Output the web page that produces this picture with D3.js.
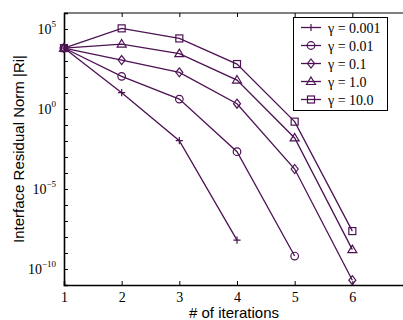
<!DOCTYPE html>
<html>
<head>
<meta charset="utf-8">
<script src="https://cdn.jsdelivr.net/npm/d3@7"></script>
<style>
body { margin: 0; background: #fff; }
</style>
</head>
<body>
<svg id="chart" width="403" height="320"></svg>
<script>
// values (log10 of residual norm)
const iterations = [1, 2, 3, 4, 5, 6];
const gammaLabels = ['γ = 0.001', 'γ = 0.01', 'γ = 0.1', 'γ = 1.0', 'γ = 10.0'];
const markers = ['plus', 'circle', 'diamond', 'triangle', 'square'];
const logG0001 = [3.81, 1.02, -1.98, -8.2];
const logG001 = [3.81, 2.04, 0.62, -2.67, -9.19];
const logG01 = [3.81, 3.06, 2.29, 0.33, -3.75, -10.7];
const logG1 = [3.81, 4.06, 3.46, 1.81, -1.81, -8.79];
const logG10 = [3.81, 5.04, 4.41, 2.81, -0.79, -7.63];
const yTickExps = [5, 0, -5, -10];

const series = [logG0001, logG001, logG01, logG1, logG10];
const color = '#4d1254';

const width = 403, height = 320;
const padL = 64, padT = 13, padR = 410, padB = 285;

const svg = d3.select('#chart');
const xScale = d3.scaleLinear().domain([1, 7]).range([padL, padR]);
const yScale = d3.scaleLog().domain([1e-11, 1e6]).range([padB, padT]);

// top border
svg.append('line').attr('x1', padL).attr('x2', width).attr('y1', padT).attr('y2', padT)
  .attr('stroke', '#000').attr('stroke-width', 1);

// bottom axis, ticks pointing inward
const xAxis = d3.axisBottom(xScale).tickValues(iterations).tickSize(-4).tickPadding(7).tickFormat(d3.format('d'));
const gx = svg.append('g').attr('transform', `translate(0,${padB})`).call(xAxis);
gx.select('.domain').attr('stroke-width', 1.6);
gx.selectAll('text').attr('font-family', '"Liberation Serif", serif').attr('font-size', 14).attr('fill', '#000');

// top ticks
const gxt = svg.append('g').attr('transform', `translate(0,${padT})`)
  .call(d3.axisTop(xScale).tickValues(iterations.slice(1)).tickSize(-4).tickFormat(''));
gxt.select('.domain').remove();

// left axis, one tick per decade, labels every 5
const decades = d3.range(-11, 7).map(e => Math.pow(10, e));
const gy = svg.append('g').attr('transform', `translate(${padL},0)`)
  .call(d3.axisLeft(yScale).tickValues(decades).tickSize(-4).tickFormat(''));
gy.select('.domain').attr('stroke-width', 1.6);

yTickExps.forEach(e => {
  const t = svg.append('text')
    .attr('x', 56).attr('y', yScale(Math.pow(10, e)) + 5)
    .attr('text-anchor', 'end')
    .attr('font-family', '"Liberation Serif", serif')
    .attr('font-size', 14);
  t.append('tspan').text('10');
  t.append('tspan').attr('dy', -7).attr('font-size', 9).text(e < 0 ? '\u2212' + (-e) : e);
});

// axis titles
svg.append('text').attr('x', 234).attr('y', 318).attr('text-anchor', 'middle')
  .attr('font-family', '"Liberation Sans", Arial, sans-serif').attr('font-size', 15)
  .text('# of iterations');
svg.append('text').attr('transform', `translate(24,${(padT + padB) / 2}) rotate(-90)`)
  .attr('text-anchor', 'middle')
  .attr('font-family', '"Liberation Sans", Arial, sans-serif').attr('font-size', 15)
  .text('Interface Residual Norm |Ri|');

function drawMarker(g, type, x, y) {
  const s = 3.6;
  if (type === 'plus') {
    g.append('path').attr('d', `M${x - s},${y}H${x + s}M${x},${y - s}V${y + s}`)
      .attr('stroke', color).attr('stroke-width', 1.2).attr('fill', 'none');
  } else if (type === 'circle') {
    g.append('circle').attr('cx', x).attr('cy', y).attr('r', 3.8)
      .attr('stroke', color).attr('stroke-width', 1.2).attr('fill', 'none');
  } else if (type === 'diamond') {
    g.append('path').attr('d', `M${x},${y - 4.5}L${x + 3.5},${y}L${x},${y + 4.5}L${x - 3.5},${y}Z`)
      .attr('stroke', color).attr('stroke-width', 1.2).attr('fill', 'none');
  } else if (type === 'triangle') {
    g.append('path').attr('d', `M${x},${y - 4.5}L${x + 4.5},${y + 3}L${x - 4.5},${y + 3}Z`)
      .attr('stroke', color).attr('stroke-width', 1.2).attr('fill', 'none');
  } else {
    g.append('rect').attr('x', x - 3.5).attr('y', y - 3.5).attr('width', 7).attr('height', 7)
      .attr('stroke', color).attr('stroke-width', 1.2).attr('fill', 'none');
  }
}

const line = d3.line().x((d, i) => xScale(iterations[i])).y(d => yScale(Math.pow(10, d)));

series.forEach((vals, k) => {
  const g = svg.append('g');
  g.append('path').attr('d', line(vals)).attr('fill', 'none')
    .attr('stroke', color).attr('stroke-width', 1.3);
  vals.forEach((v, i) => drawMarker(g, markers[k], xScale(iterations[i]), yScale(Math.pow(10, v))));
});

// legend
const lg = svg.append('g');
lg.append('rect').attr('x', 293.5).attr('y', 17.5).attr('width', 94).attr('height', 93)
  .attr('fill', '#fff').attr('stroke', '#000').attr('stroke-width', 1);
gammaLabels.forEach((lab, k) => {
  const y = 27.5 + k * 18;
  lg.append('line').attr('x1', 301).attr('x2', 321).attr('y1', y).attr('y2', y)
    .attr('stroke', color).attr('stroke-width', 1.3);
  drawMarker(lg, markers[k], 311, y);
  lg.append('text').attr('x', 328).attr('y', y + 5)
    .attr('font-family', '"Liberation Serif", serif').attr('font-size', 14).text(lab);
});
</script>
</body>
</html>
